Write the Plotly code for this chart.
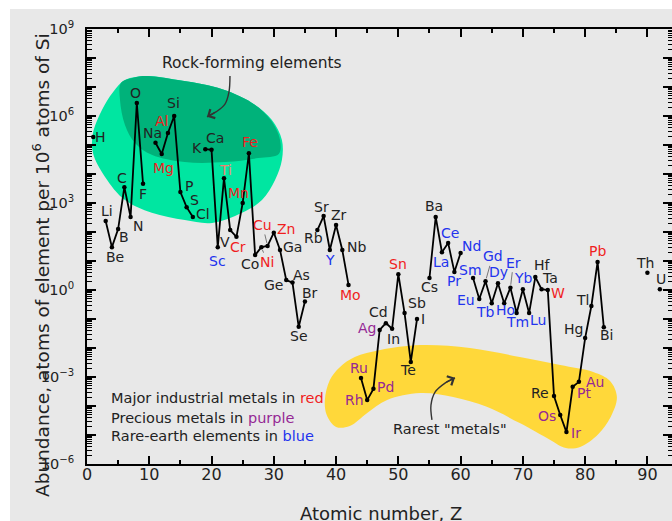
import math
import plotly.graph_objects as go

# ---------------- data (atoms per 10^6 atoms of Si) ----------------
atomic_number = [1, 3, 4, 5, 6, 7, 8, 9, 11, 12, 13, 14, 15, 16, 17, 19, 20, 21, 22, 23,
                 24, 25, 26, 27, 28, 29, 30, 31, 32, 33, 34, 35, 37, 38, 39, 40, 41, 42,
                 44, 45, 46, 47, 48, 49, 50, 51, 52, 53, 55, 56, 57, 58, 59, 60, 62, 63,
                 64, 65, 66, 67, 68, 69, 70, 71, 72, 73, 74, 75, 76, 77, 78, 79, 80, 81,
                 82, 83, 90, 92]
symbols = ["H", "Li", "Be", "B", "C", "N", "O", "F", "Na", "Mg", "Al", "Si", "P", "S", "Cl",
           "K", "Ca", "Sc", "Ti", "V", "Cr", "Mn", "Fe", "Co", "Ni", "Cu", "Zn", "Ga", "Ge",
           "As", "Se", "Br", "Rb", "Sr", "Y", "Zr", "Nb", "Mo", "Ru", "Rh", "Pd", "Ag", "Cd",
           "In", "Sn", "Sb", "Te", "I", "Cs", "Ba", "La", "Ce", "Pr", "Nd", "Sm", "Eu", "Gd",
           "Tb", "Dy", "Ho", "Er", "Tm", "Yb", "Lu", "Hf", "Ta", "W", "Re", "Os", "Ir", "Pt",
           "Au", "Hg", "Tl", "Pb", "Bi", "Th", "U"]
abundance = [1.9e5, 240, 30, 126, 3500, 330, 2.8e6, 4600, 1.2e5, 4.9e4, 2.6e5, 1.0e6, 2400,
             720, 330, 7.2e4, 6.8e4, 30, 7200, 117, 68, 1000, 5.2e4, 16, 30, 33, 95, 24, 2.2,
             1.8, 0.054, 0.4, 117, 355, 24, 174, 24, 1.5, 9.3e-4, 1.6e-4, 3.9e-4, 0.042,
             0.072, 0.046, 3.5, 0.16, 0.0033, 0.1, 2.6, 330, 20, 42, 4.2, 19, 2.6, 0.49,
             2.0, 0.35, 1.7, 0.35, 1.2, 0.16, 1.07, 0.16, 2.8, 1.07, 1.0, 2.2e-4, 4.9e-5,
             1.26e-5, 4.6e-4, 6.8e-4, 0.022, 0.28, 9.3, 0.052, 3.9, 1.07]

industrial = ["Mg", "Al", "Ti", "Cr", "Mn", "Fe", "Ni", "Cu", "Zn", "Mo", "Sn", "W", "Pb"]
precious = ["Ru", "Rh", "Pd", "Ag", "Os", "Ir", "Pt", "Au"]
rare_earth = ["Sc", "Y", "La", "Ce", "Pr", "Nd", "Sm", "Eu", "Gd", "Tb", "Dy", "Ho", "Er",
              "Tm", "Yb", "Lu"]

x_ticks = [0, 10, 20, 30, 40, 50, 60, 70, 80, 90]
y_decades = list(range(-6, 10))

# ---------------- decoration geometry (Z, log10 abundance) ----------------
rock_outline_z = [6.1, 9.8, 14.6, 21.0, 26.5, 29.7, 31.3, 31.3, 30.2, 28.1, 24.9, 20.1, 15.7,
                  10.4, 6.1, 2.9, 0.96, 0.96, 2.4, 4.2, 6.1]
rock_outline_l = [7.24, 7.38, 7.24, 6.97, 6.45, 5.86, 5.17, 4.48, 3.79, 3.10, 2.66, 2.31, 2.41,
                  2.66, 3.10, 3.90, 4.72, 5.41, 6.21, 6.83, 7.24]
rock_core_z = [5.46, 7.71, 9.8, 14.6, 21.0, 26.5, 29.5, 31.0, 30.8, 27.5, 22.2, 15.7, 10.4,
               7.7, 6.1, 5.3, 5.46]
rock_core_l = [7.14, 7.34, 7.38, 7.24, 6.97, 6.45, 5.86, 5.17, 4.69, 4.55, 4.41, 4.41, 4.66,
               5.07, 5.69, 6.55, 7.14]
rare_outline_z = [38.2, 39.0, 40.6, 43.0, 47.1, 53.5, 61.5, 69.5, 76.0, 81.3, 84.0, 85.1, 84.1,
                  82.1, 79.2, 76.9, 74.4, 69.5, 64.2, 58.8, 53.5, 48.2, 45.0, 42.2, 40.0, 38.5,
                  38.2]
rare_outline_l = [-3.79, -3.10, -2.66, -2.31, -2.07, -1.90, -2.0, -2.31, -2.59, -2.83, -3.14,
                  -3.69, -4.38, -4.97, -5.41, -5.45, -5.17, -4.59, -4.03, -3.69, -3.55, -3.79,
                  -4.24, -4.69, -4.72, -4.31, -3.79]
rock_arrow_z = [22.96, 22.8, 22.16, 20.7, 19.27]
rock_arrow_l = [7.38, 6.83, 6.41, 6.14, 5.97]
rare_arrow_z = [55.4, 55.24, 55.9, 57.5, 59.1]
rare_arrow_l = [-4.48, -3.97, -3.52, -3.21, -3.03]

# label offsets in pixels: (right, up)
label_offset = {
    "H": (7, 0), "Li": (1, 10), "Be": (3, -10), "B": (6, -8), "C": (-2, 9), "N": (7, -9),
    "O": (-1, 10), "F": (0, -10), "Na": (-3, 10), "Mg": (2, -14), "Al": (-6, 12),
    "Si": (-1, 13), "P": (9, 6), "S": (8, 7), "Cl": (10, 3), "K": (-8, 1), "Ca": (3, 12),
    "Sc": (0, -14), "Ti": (2, 8), "V": (-5, -12), "Cr": (2, -10), "Mn": (-4, 10),
    "Fe": (1, 11), "Co": (-5, -9), "Ni": (6, -15), "Cu": (-5, 21), "Zn": (12, 4),
    "Ga": (12, 3), "Ge": (-13, -5), "As": (9, 8), "Se": (0, -9), "Br": (5, 9),
    "Rb": (-4, -8), "Sr": (-2, 9), "Y": (0, -10), "Zr": (3, 10), "Nb": (14, 3),
    "Mo": (2, -10), "Ru": (-2, 10), "Rh": (-13, 0), "Pd": (12, 2), "Ag": (-13, 2),
    "Cd": (-7, 11), "In": (1, -10), "Sn": (0, 10), "Sb": (12, 10), "Te": (-3, -8),
    "I": (6, 0), "Cs": (0, -9), "Ba": (-2, 11), "La": (-1, -10), "Ce": (2, 10),
    "Pr": (0, -9), "Nd": (11, 7), "Sm": (-3, 8), "Eu": (-13, -1), "Gd": (7, 25),
    "Tb": (-6, -9), "Dy": (1, 11), "Ho": (1, -7), "Er": (3, 25), "Tm": (1, -9),
    "Yb": (1, 11), "Lu": (9, -7), "Hf": (7, 12), "Ta": (8, 11), "W": (10, -3),
    "Re": (-14, 3), "Os": (-13, -1), "Ir": (10, -1), "Pt": (11, -6), "Au": (16, 0),
    "Hg": (-12, 9), "Tl": (-9, 6), "Pb": (0, 11), "Bi": (3, -8), "Th": (-2, 10), "U": (1, 10),
}
leader_labels = ["Cu", "Ni", "Gd", "Er"]

RED = "#f01e1e"
PURPLE = "#952895"
BLUE = "#2233ee"
INK = "#222222"
FONT = "DejaVu Sans"

# ---------------- build the connected series (breaks at missing Z) ----------------
line_x, line_y = [], []
prev = None
for z, v in zip(atomic_number, abundance):
    if prev is not None and z - prev > 1:
        line_x.append(None)
        line_y.append(None)
    line_x.append(z)
    line_y.append(v)
    prev = z

fig = go.Figure()

def blob(zs, ls, color):
    fig.add_trace(go.Scatter(x=zs, y=[10 ** l for l in ls], mode="lines",
                             line=dict(shape="spline", smoothing=1.0, width=0, color=color),
                             fill="toself", fillcolor=color, hoverinfo="skip",
                             showlegend=False))

blob(rock_outline_z, rock_outline_l, "#00e6a1")
blob(rock_core_z, rock_core_l, "#00b27a")
blob(rare_outline_z, rare_outline_l, "#ffd83a")

for zs, ls in [(rock_arrow_z, rock_arrow_l), (rare_arrow_z, rare_arrow_l)]:
    fig.add_trace(go.Scatter(x=zs, y=[10 ** l for l in ls], mode="lines",
                             line=dict(shape="spline", color="#333333", width=1.4),
                             hoverinfo="skip", showlegend=False))

fig.add_trace(go.Scatter(x=line_x, y=line_y, mode="lines+markers",
                         line=dict(color="black", width=1.8),
                         marker=dict(color="black", size=4.5),
                         showlegend=False, hoverinfo="skip"))
# empty traces so the tick-only overlay axes are drawn
for xa, ya in [("x", "y2"), ("x", "y3"), ("x", "y4"), ("x2", "y"), ("x3", "y")]:
    fig.add_trace(go.Scatter(x=[None], y=[None], xaxis=xa, yaxis=ya, showlegend=False,
                             hoverinfo="skip"))

annotations = []
for z, s, v in zip(atomic_number, symbols, abundance):
    if s == "Ti":
        col = "#f08070"
    elif s in industrial:
        col = RED
    elif s in precious:
        col = PURPLE
    elif s in rare_earth:
        col = BLUE
    else:
        col = INK
    dx, dy = label_offset[s]
    base = dict(x=z, y=math.log10(v), xref="x", yref="y", text=s,
                font=dict(family=FONT, size=14, color=col))
    if s in leader_labels:
        base.update(showarrow=True, ax=dx, ay=-dy, arrowhead=0, arrowwidth=1,
                    arrowcolor="#777777", standoff=3)
    else:
        base.update(showarrow=False, xshift=dx, yshift=dy)
    annotations.append(base)

# arrowheads
annotations.append(dict(x=rock_arrow_z[-1], y=rock_arrow_l[-1], xref="x", yref="y", text="",
                        showarrow=True, ax=9, ay=-5, arrowhead=4, arrowsize=1.4,
                        arrowwidth=1.4, arrowcolor="#333333"))
annotations.append(dict(x=rare_arrow_z[-1], y=rare_arrow_l[-1], xref="x", yref="y", text="",
                        showarrow=True, ax=-10, ay=5, arrowhead=4, arrowsize=1.4,
                        arrowwidth=1.4, arrowcolor="#333333"))

annotations.append(dict(x=26.5, y=7.83, xref="x", yref="y", text="Rock-forming elements",
                        showarrow=False, font=dict(family=FONT, size=15.5, color=INK)))
annotations.append(dict(x=58.3, y=-4.79, xref="x", yref="y", text="Rarest \"metals\"",
                        showarrow=False, font=dict(family=FONT, size=14.5, color=INK)))

legend_lines = [
    ("Major industrial metals in <span style='color:%s'>red</span>" % RED, -3.72),
    ("Precious metals in <span style='color:%s'>purple</span>" % PURPLE, -4.41),
    ("Rare-earth elements in <span style='color:%s'>blue</span>" % BLUE, -5.03),
]
for txt, yl in legend_lines:
    annotations.append(dict(x=3.53, y=yl, xref="x", yref="y", text=txt, xanchor="left",
                            showarrow=False, font=dict(family=FONT, size=14.5, color=INK)))

# axis titles
annotations.append(dict(x=(27 - 87) / 585, y=(464 - 265) / 435, xref="paper", yref="paper",
                        text="Abundance, atoms of element per 10<sup>6</sup> atoms of Si",
                        textangle=-90, showarrow=False,
                        font=dict(family=FONT, size=18.5, color=INK)))
annotations.append(dict(x=(381 - 87) / 585, y=(464 - 501) / 435, xref="paper", yref="paper",
                        text="Atomic number, Z", yanchor="top", showarrow=False,
                        font=dict(family=FONT, size=18, color=INK)))

y_tickvals = [10.0 ** d for d in y_decades]
y_ticktext = [("10<sup>%s</sup>" % (str(d) if d >= 0 else "\u2212" + str(-d))) if d % 3 == 0 else ""
              for d in y_decades]
y_minor = [m * 10.0 ** d for d in y_decades[:-1] for m in range(2, 10)]
x_minor = [t + 5 for t in x_ticks[:-1]]

Y_RANGE = [-6, 9]
X_RANGE = [0, 93.95]


def y_ticks_axis(vals, length, width, **extra):
    d = dict(type="log", range=Y_RANGE, tickmode="array", tickvals=vals, ticks="inside",
             ticklen=length, tickwidth=width, tickcolor="black", showgrid=False,
             zeroline=False)
    d.update(extra)
    return d


def x_ticks_axis(vals, length, width, **extra):
    d = dict(range=X_RANGE, tickmode="array", tickvals=vals, ticks="inside", ticklen=length,
             tickwidth=width, tickcolor="black", showgrid=False, zeroline=False)
    d.update(extra)
    return d


fig.update_layout(
    width=672, height=521, autosize=False,
    margin=dict(l=87, r=0, t=29, b=57, pad=0),
    paper_bgcolor="#e8e8e8", plot_bgcolor="rgba(0,0,0,0)",
    font=dict(family=FONT, color=INK),
    xaxis=x_ticks_axis(x_ticks, 8, 1.8, ticktext=[str(t) for t in x_ticks], showline=True,
                       linewidth=2, linecolor="black", mirror="ticks",
                       tickfont=dict(family=FONT, size=16, color=INK), ticklabelstandoff=-5),
    xaxis2=x_ticks_axis(x_minor, 4, 1.5, overlaying="x", side="bottom", anchor="y",
                        showticklabels=False, showline=False),
    xaxis3=x_ticks_axis(x_minor, 4, 1.5, overlaying="x", side="top", anchor="y",
                        showticklabels=False, showline=False),
    yaxis=y_ticks_axis(y_tickvals, 9, 1.8, ticktext=y_ticktext, showline=True, linewidth=2,
                       linecolor="black", tickfont=dict(family=FONT, size=14.5, color=INK),
                       ticklabelstandoff=8),
    yaxis2=y_ticks_axis(y_tickvals, 9, 1.8, overlaying="y", side="right", anchor="x",
                        showticklabels=False, showline=False),
    yaxis3=y_ticks_axis(y_minor, 4.5, 1, overlaying="y", side="left", anchor="x",
                        showticklabels=False, showline=False),
    yaxis4=y_ticks_axis(y_minor, 4.5, 1, overlaying="y", side="right", anchor="x",
                        showticklabels=False, showline=False),
    annotations=annotations,
    shapes=[
        dict(type="rect", xref="paper", yref="paper", x0=-0.3, x1=-77 / 585, y0=-0.3,
             y1=1.3, fillcolor="white", line=dict(width=0), layer="below"),
        dict(type="rect", xref="paper", yref="paper", x0=-0.3, x1=1.3, y0=455 / 435,
             y1=1.3, fillcolor="white", line=dict(width=0), layer="below"),
    ],
)

fig.write_html("out.html")
